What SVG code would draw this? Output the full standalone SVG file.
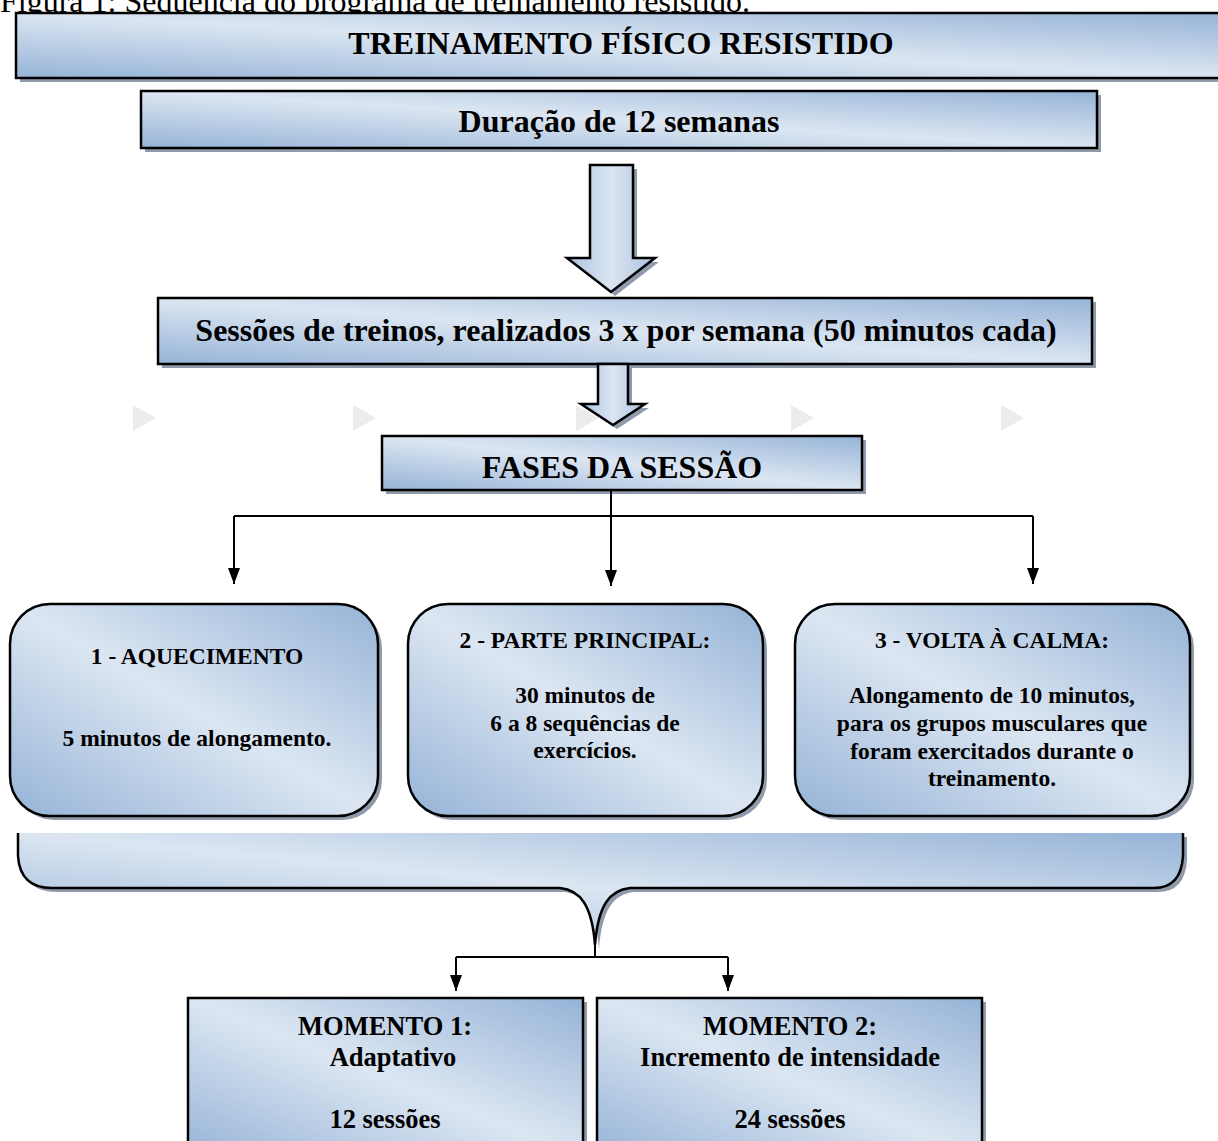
<svg xmlns="http://www.w3.org/2000/svg" width="1218" height="1141" viewBox="0 0 1218 1141">
<defs>
<linearGradient id="g" x1="0" y1="1" x2="1" y2="0">
<stop offset="0" stop-color="#95b3d7"/>
<stop offset="0.5" stop-color="#dce6f2"/>
<stop offset="1" stop-color="#95b3d7"/>
</linearGradient>
<linearGradient id="ga" x1="0" y1="0" x2="1" y2="0">
<stop offset="0" stop-color="#a9c0de"/>
<stop offset="0.5" stop-color="#dce6f2"/>
<stop offset="1" stop-color="#a9c0de"/>
</linearGradient>
<marker id="ah" viewBox="0 0 16 12" refX="16" refY="6" markerWidth="16" markerHeight="12" markerUnits="userSpaceOnUse" orient="auto">
<path d="M0,0 L16,6 L0,12 Z" fill="#000"/>
</marker>
<clipPath id="capclip"><rect x="0" y="0" width="1218" height="20"/></clipPath>
</defs>
<style>
.box{fill:url(#g);stroke:#000;stroke-width:2.5}
.sh{fill:#8f9aab}
.t{font-family:'Liberation Serif','Times New Roman',serif;font-weight:bold;fill:#000;text-anchor:middle}
.big{font-size:32px}
.mid{font-size:23.5px}
.mom{font-size:26.5px}
.conn{fill:none;stroke:#000;stroke-width:2}
.tri{fill:#ececec}
</style>
<g id="caption" clip-path="url(#capclip)">
<text x="0" y="12" style="font-family:'Liberation Serif','Times New Roman',serif;font-size:32px;fill:#000">Figura 1: Sequência do programa de treinamento resistido.</text>
</g>

<g id="decor">
<path class="tri" d="M133,405 L156,418 L133,431 Z"/>
<path class="tri" d="M353,405 L376,418 L353,431 Z"/>
<path class="tri" d="M576,405 L599,418 L576,431 Z"/>
<path class="tri" d="M791,405 L814,418 L791,431 Z"/>
<path class="tri" d="M1001,405 L1024,418 L1001,431 Z"/>
</g>

<g id="n-titulo">
<rect class="sh" x="20" y="17" width="1210" height="65"/>
<rect class="box" x="16" y="13" width="1210" height="65"/>
<text class="t big" x="621" y="54">TREINAMENTO FÍSICO RESISTIDO</text>
</g>

<g id="n-duracao">
<rect class="sh" x="145" y="95" width="956" height="57"/>
<rect class="box" x="141" y="91" width="956" height="57"/>
<text class="t big" x="619" y="132">Duração de 12 semanas</text>
</g>

<g id="n-arrow1">
<path class="sh" d="M594,169 L637,169 L637,262 L659,262 L615,296 L571,262 L594,262 Z"/>
<path d="M590,165 L633,165 L633,258 L655,258 L611,292 L567,258 L590,258 Z" fill="url(#ga)" stroke="#000" stroke-width="2.5"/>
</g>

<g id="n-sessoes">
<rect class="sh" x="162" y="302" width="934" height="66"/>
<rect class="box" x="158" y="298" width="934" height="66"/>
<text class="t big" x="626" y="341">Sessões de treinos, realizados 3 x por semana (50 minutos cada)</text>
</g>

<g id="n-arrow2">
<path class="sh" d="M602,368 L632,368 L632,408 L649,408 L617,429 L585,408 L602,408 Z"/>
<path d="M598,364 L628,364 L628,404 L645,404 L613,425 L581,404 L598,404 Z" fill="url(#ga)" stroke="#000" stroke-width="2.5"/>
</g>

<g id="n-fases">
<rect class="sh" x="386" y="440" width="480" height="54"/>
<rect class="box" x="382" y="436" width="480" height="54"/>
<text class="t big" x="622" y="478">FASES DA SESSÃO</text>
</g>

<g id="connectors">
<path class="conn" d="M611,490 L611,516"/>
<path class="conn" d="M234,516 L1033,516"/>
<path class="conn" d="M234,516 L234,584" marker-end="url(#ah)"/>
<path class="conn" d="M611,516 L611,586" marker-end="url(#ah)"/>
<path class="conn" d="M1033,516 L1033,584" marker-end="url(#ah)"/>
<path class="conn" d="M595,945 L595,957"/>
<path class="conn" d="M456,957 L728,957"/>
<path class="conn" d="M456,957 L456,991" marker-end="url(#ah)"/>
<path class="conn" d="M728,957 L728,991" marker-end="url(#ah)"/>
</g>

<g id="n-aquecimento">
<rect class="sh" x="14" y="608" width="368" height="212" rx="40"/>
<rect class="box" x="10" y="604" width="368" height="212" rx="40"/>
<text class="t mid" x="197" y="664">1 - AQUECIMENTO</text>
<text class="t mid" x="197" y="746">5 minutos de alongamento.</text>
</g>

<g id="n-principal">
<rect class="sh" x="412" y="608" width="355" height="212" rx="40"/>
<rect class="box" x="408" y="604" width="355" height="212" rx="40"/>
<text class="t mid" x="585" y="648">2 - PARTE PRINCIPAL:</text>
<text class="t mid" x="585" y="703">30 minutos de</text>
<text class="t mid" x="585" y="731">6 a 8 sequências de</text>
<text class="t mid" x="585" y="758">exercícios.</text>
</g>

<g id="n-calma">
<rect class="sh" x="799" y="608" width="395" height="212" rx="40"/>
<rect class="box" x="795" y="604" width="395" height="212" rx="40"/>
<text class="t mid" x="992" y="648">3 - VOLTA À CALMA:</text>
<text class="t mid" x="992" y="703">Alongamento de 10 minutos,</text>
<text class="t mid" x="992" y="731">para os grupos musculares que</text>
<text class="t mid" x="992" y="759">foram exercitados durante o</text>
<text class="t mid" x="992" y="786">treinamento.</text>
</g>

<g id="n-chave">
<path class="sh" d="M22,837 L22,860 Q24,892 56,892 L564,892 C584,894 596,909 599,949 C602,909 614,894 634,892 L1158,892 Q1185,892 1187,860 L1187,837 Z"/>
<path d="M18,833 L18,856 Q20,888 52,888 L560,888 C580,890 592,905 595,945 C598,905 610,890 630,888 L1154,888 Q1181,888 1183,856 L1183,833 Z" fill="url(#g)" stroke="none"/>
<path d="M18,833 L18,856 Q20,888 52,888 L560,888 C580,890 592,905 595,945 C598,905 610,890 630,888 L1154,888 Q1181,888 1183,856 L1183,833" fill="none" stroke="#000" stroke-width="2.5"/>
</g>

<g id="n-momento1">
<rect class="sh" x="192" y="1002" width="395" height="160"/>
<rect class="box" x="188" y="998" width="395" height="160"/>
<text class="t mom" x="385" y="1035">MOMENTO 1:</text>
<text class="t mom" x="393" y="1066">Adaptativo</text>
<text class="t mom" x="385" y="1128">12 sessões</text>
</g>

<g id="n-momento2">
<rect class="sh" x="601" y="1002" width="385" height="160"/>
<rect class="box" x="597" y="998" width="385" height="160"/>
<text class="t mom" x="790" y="1035">MOMENTO 2:</text>
<text class="t mom" x="790" y="1066">Incremento de intensidade</text>
<text class="t mom" x="790" y="1128">24 sessões</text>
</g>
</svg>
